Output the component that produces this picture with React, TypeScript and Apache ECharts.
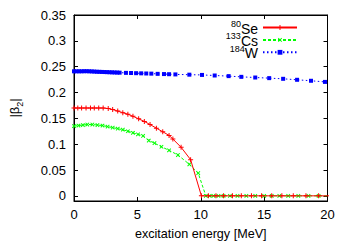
import React, { useEffect, useRef } from "react";
import * as echarts from "echarts";

const seriesNames = ["Se", "Cs", "W"];
const massNumbers = ["80", "133", "184"];
const seriesColors = ["#ff0000", "#00ff00", "#0000ff"];

const seE = [0, 0.3, 0.6, 0.95, 1.3, 1.6, 1.95, 2.3, 2.7, 3.05, 3.45, 3.85, 4.25, 4.65, 5.1, 5.55, 6.0, 6.5, 7.0, 7.5, 7.8, 8.45, 9.2, 10.05, 10.6, 11.2, 11.8, 12.5, 13.2, 14.0, 14.8, 15.6, 16.4, 17.3, 18.3, 19.3, 20.3];
const seV = [0.17, 0.17, 0.17, 0.17, 0.17, 0.17, 0.17, 0.17, 0.169, 0.167, 0.164, 0.161, 0.158, 0.154, 0.149, 0.144, 0.138, 0.131, 0.124, 0.117, 0.11, 0.094, 0.07, 0, 0, 0, 0, 0, 0, 0, 0, 0, 0, 0, 0, 0, 0];

const csE = [0, 0.35, 0.7, 1.05, 1.45, 1.85, 2.25, 2.65, 3.05, 3.45, 3.85, 4.25, 4.65, 5.05, 5.45, 5.9, 6.35, 6.9, 7.5, 8.2, 9.1, 9.8, 10.4, 10.7, 11.0, 11.4, 11.8, 12.3, 12.9, 13.6, 14.3, 15.0, 15.6, 16.2, 16.9, 17.7, 18.5, 19.3, 20.1];
const csV = [0.135, 0.136, 0.137, 0.138, 0.138, 0.137, 0.136, 0.134, 0.132, 0.13, 0.128, 0.125, 0.122, 0.119, 0.116, 0.107, 0.102, 0.095, 0.088, 0.079, 0.061, 0.044, 0, 0, 0, 0, 0, 0, 0, 0, 0, 0, 0, 0, 0, 0, 0, 0, 0];

const wE = [0, 0.2, 0.4, 0.6, 0.8, 1.0, 1.2, 1.4, 1.6, 1.8, 2.0, 2.2, 2.4, 2.6, 2.8, 3.0, 3.2, 3.4, 3.6, 4.1, 4.5, 4.9, 5.3, 5.7, 6.1, 6.6, 7.1, 7.5, 8.0, 9.1, 10.1, 11.1, 12.2, 13.2, 14.3, 15.4, 16.5, 17.6, 18.7, 19.8, 20.9];
const wV = [0.241, 0.241, 0.241, 0.241, 0.2412, 0.2412, 0.241, 0.2408, 0.2405, 0.2402, 0.24, 0.2398, 0.2396, 0.2394, 0.2392, 0.239, 0.2388, 0.2386, 0.2384, 0.238, 0.2377, 0.2374, 0.2371, 0.2368, 0.2365, 0.2361, 0.2357, 0.2354, 0.235, 0.2345, 0.234, 0.2329, 0.2317, 0.2303, 0.229, 0.2278, 0.2265, 0.2246, 0.2227, 0.2205, 0.2185];

const yTicks = [0, 0.05, 0.1, 0.15, 0.2, 0.25, 0.3, 0.35];

const FONT = "'Liberation Sans', Arial, Helvetica, sans-serif";
const PLUS = "path://M2.4,0H3.6V2.4H6V3.6H3.6V6H2.4V3.6H0V2.4H2.4Z";

const pairs = (xs: number[], ys: number[]) => xs.map((x, i) => [x, ys[i]]);

export default function App() {
  const ref = useRef<HTMLDivElement>(null);
  useEffect(() => {
    if (!ref.current) return;
    const chart = echarts.init(ref.current, null, { renderer: "svg" });
    const tickStyle = { show: true, inside: true, length: 4, lineStyle: { color: "#000", width: 1 } };
    const xBase = {
      type: "value" as const,
      min: 0,
      max: 20,
      interval: 5,
      splitLine: { show: false },
      axisLine: { show: true, onZero: false, lineStyle: { color: "#000", width: 1 } },
      axisTick: tickStyle,
    };
    const yBase = {
      type: "value" as const,
      min: -0.01,
      max: 0.35,
      splitLine: { show: false },
      axisLine: { show: true, onZero: false, lineStyle: { color: "#000", width: 1 } },
      axisTick: { ...tickStyle, customValues: yTicks },
    };
    const lineSeries = (i: number, data: number[][], extra: any) => ({
      name: seriesNames[i],
      type: "line",
      data,
      clip: true,
      showAllSymbol: true,
      lineStyle: { color: seriesColors[i], width: 1, ...(extra.lineStyle || {}) },
      itemStyle: { color: seriesColors[i] },
      symbol: extra.symbol,
      symbolSize: extra.symbolSize,
      symbolRotate: extra.symbolRotate || 0,
      z: extra.z,
    });
    chart.setOption({
      animation: false,
      grid: {
        left: 69.5,
        right: 22.5,
        top: 15,
        bottom: 41,
        show: true,
        borderColor: "#000",
        borderWidth: 1,
      },
      legend: {
        orient: "vertical",
        right: 52,
        top: 19.5,
        align: "right",
        padding: 0,
        itemGap: -3.6,
        itemWidth: 34,
        itemHeight: 6,
        data: seriesNames,
        formatter: (name: string) => `{s|${massNumbers[seriesNames.indexOf(name)]}}{m|${name}}`,
        textStyle: {
          fontFamily: FONT,
          color: "#000",
          padding: [0, 0, 0, 0],
          rich: {
            s: { fontFamily: FONT, fontSize: 9, lineHeight: 9, verticalAlign: "top", color: "#000" },
            m: { fontFamily: FONT, fontSize: 14, lineHeight: 16, verticalAlign: "bottom", color: "#000" },
          },
        },
      },
      xAxis: [
        {
          ...xBase,
          position: "bottom",
          name: "excitation energy [MeV]",
          nameLocation: "middle",
          nameGap: 26,
          nameTextStyle: { fontFamily: FONT, fontSize: 12.6, color: "#000" },
          axisLabel: { fontFamily: FONT, fontSize: 13, color: "#000", margin: 7 },
        },
        {
          ...xBase,
          position: "top",
          axisLabel: { show: false },
        },
      ],
      yAxis: [
        {
          ...yBase,
          position: "left",
          name: "{a||β}{b|2}{a||}",
          nameLocation: "middle",
          nameGap: 50,
          nameRotate: 90,
          nameTextStyle: {
            fontFamily: FONT,
            color: "#000",
            rich: {
              a: { fontFamily: FONT, fontSize: 13, lineHeight: 16, verticalAlign: "top", color: "#000" },
              b: { fontFamily: FONT, fontSize: 9, lineHeight: 16, verticalAlign: "bottom", color: "#000" },
            },
          },
          axisLabel: {
            fontFamily: FONT,
            fontSize: 13,
            color: "#000",
            margin: 8,
            customValues: yTicks,
            formatter: (v: number) => String(Number(v.toFixed(2))),
          },
        },
        {
          ...yBase,
          position: "right",
          axisLabel: { show: false },
        },
      ],
      series: [
        lineSeries(2, pairs(wE, wV), { symbol: "rect", symbolSize: 4, lineStyle: { type: [1.5, 2.5] }, z: 2 }),
        lineSeries(1, pairs(csE, csV), { symbol: PLUS, symbolSize: 5, symbolRotate: 45, lineStyle: { type: [3, 2] }, z: 3 }),
        lineSeries(0, pairs(seE, seV), { symbol: PLUS, symbolSize: 5, lineStyle: { type: "solid" }, z: 4 }),
      ],
    });
    return () => chart.dispose();
  }, []);
  return <div ref={ref} style={{ width: 350, height: 245, position: "absolute", left: 0, top: 0 }} />;
}
